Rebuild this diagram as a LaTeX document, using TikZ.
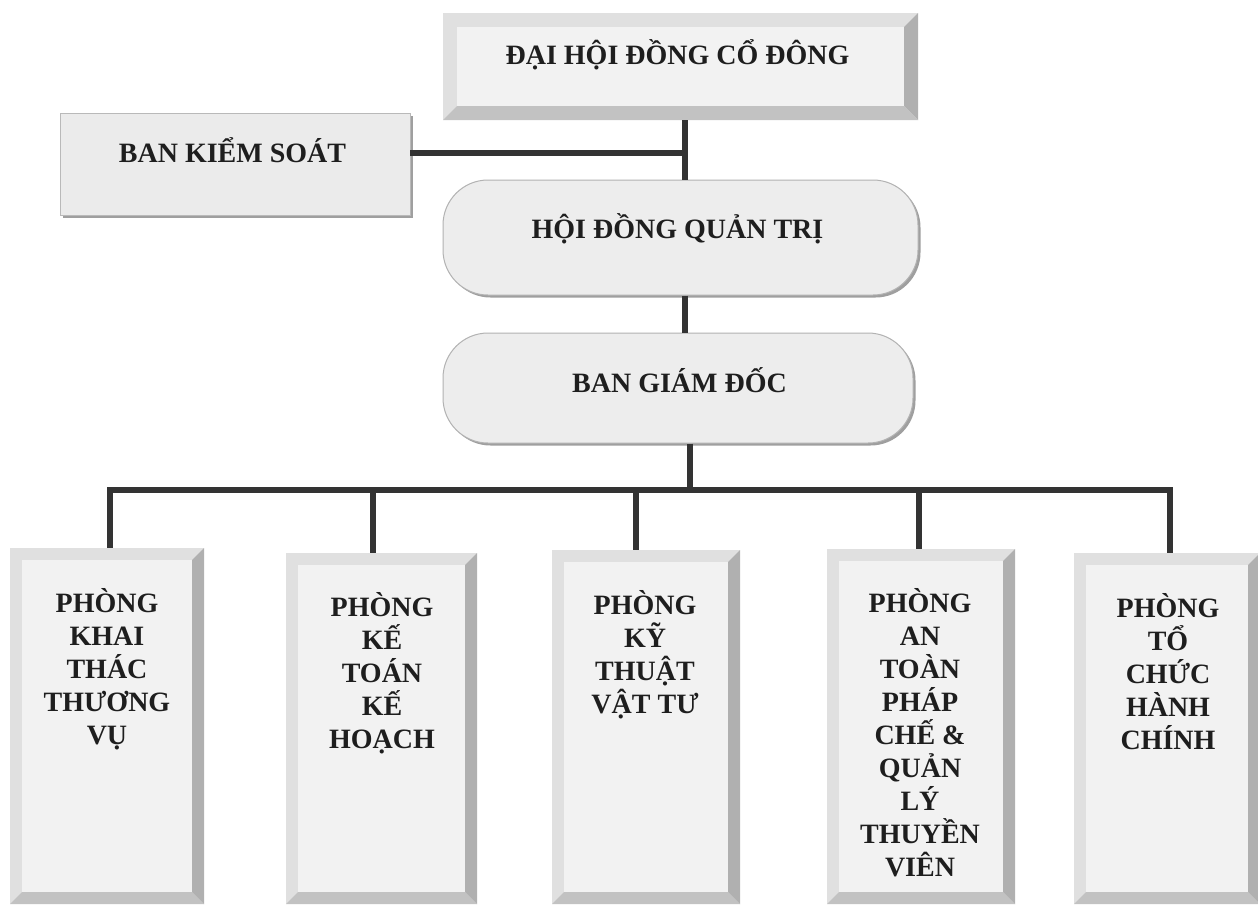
\documentclass[tikz,border=0pt]{standalone}
\usepackage{fontspec}
\setmainfont{Liberation Serif}
\usetikzlibrary{shadows}
\definecolor{linec}{HTML}{333333}
\definecolor{txt}{HTML}{1E1E1E}
\definecolor{bevface}{gray}{0.95}
\begin{document}
\begin{tikzpicture}[x=1pt,y=-1pt,
  conn/.style={draw=linec,line width=5.5pt,line join=miter},
  lbl/.style={font=\fontsize{28}{33}\selectfont\bfseries,text=txt,inner sep=0pt,align=center,anchor=base},
  bevel/.style={fill=gray!24,draw=none,inner sep=0pt,path picture={
     \path (path picture bounding box.north west) coordinate (@a)
           (path picture bounding box.south east) coordinate (@b)
           (path picture bounding box.north east) coordinate (@c)
           (path picture bounding box.south west) coordinate (@d);
     \fill[gray!62] (@c) -- (@b) -- ([xshift=-#1pt,yshift=#1pt]@b) -- ([xshift=-#1pt,yshift=-#1pt]@c) -- cycle;
     \fill[gray!48] (@d) -- (@b) -- ([xshift=-#1pt,yshift=#1pt]@b) -- ([xshift=#1pt,yshift=#1pt]@d) -- cycle;
     \fill[bevface] ([xshift=#1pt,yshift=-#1pt]@a) rectangle ([xshift=-#1pt,yshift=#1pt]@b);
  }},
  bevel/.default=12,
  pill/.style={rounded corners=45pt,fill=gray!14,draw=gray!60,line width=1pt,
     drop shadow={shadow xshift=2.5pt,shadow yshift=-2.5pt,fill=gray!75,opacity=1}},
  flat/.style={fill=gray!16,draw=gray!55,line width=0.8pt,
     drop shadow={shadow xshift=2.5pt,shadow yshift=-2.5pt,fill=gray!75,opacity=1}},
]
\fill[white] (0,0) rectangle (1258,906);
\useasboundingbox (0,0) rectangle (1258,906);

% boxes
\node[bevel=14,minimum width=475pt,minimum height=107pt] (dh) at (680.5,66.5) {};
\node[flat,minimum width=350pt,minimum height=102pt] (bks) at (235,164) {};
\node[pill,minimum width=475pt,minimum height=115pt] (hd) at (680.5,237.5) {};
\node[pill,minimum width=470pt,minimum height=110pt] (bgd) at (678,388) {};

\node[bevel,minimum width=194pt,minimum height=356pt] (p1) at (107,726) {};
\node[bevel,minimum width=191pt,minimum height=351pt] (p2) at (381.5,728.5) {};
\node[bevel,minimum width=188pt,minimum height=354pt] (p3) at (646,727) {};
\node[bevel,minimum width=188pt,minimum height=355pt] (p4) at (921,726.5) {};
\node[bevel,minimum width=186pt,minimum height=351pt] (p5) at (1167,728.5) {};

% labels (base = baseline of last line)
\node[lbl] (tdh) at (677.5,64) {ĐẠI HỘI ĐỒNG CỔ ĐÔNG};
\node[lbl] (tbks) at (232.5,162) {BAN KIỂM SOÁT};
\node[lbl] (thd) at (677.5,238) {HỘI ĐỒNG QUẢN TRỊ};
\node[lbl] (tbgd) at (679.5,392) {BAN GIÁM ĐỐC};
\node[lbl] (t1) at (107,744) {PHÒNG\\KHAI\\THÁC\\THƯƠNG\\VỤ};
\node[lbl] (t2) at (382,748) {PHÒNG\\KẾ\\TOÁN\\KẾ\\HOẠCH};
\node[lbl] (t3) at (645,713) {PHÒNG\\KỸ\\THUẬT\\VẬT TƯ};
\node[lbl] (t4) at (920,876) {PHÒNG\\AN\\TOÀN\\PHÁP\\CHẾ \&\\QUẢN\\LÝ\\THUYỀN\\VIÊN};
\node[lbl] (t5) at (1168,749) {PHÒNG\\TỔ\\CHỨC\\HÀNH\\CHÍNH};

% connectors
\coordinate (j1) at (685,153);
\coordinate (bus) at (690,490);
\coordinate (d1) at (110,490);
\coordinate (d2) at (373,490);
\coordinate (d3) at (636,490);
\coordinate (d4) at (919,490);
\coordinate (d5) at (1170,490);

\draw[conn] (j1 |- dh.south) -- (j1 |- hd.north);
\draw[conn] (bks.east |- j1) -- (j1);
\draw[conn] (j1 |- hd.south) -- (j1 |- bgd.north);
\draw[conn] (bus |- bgd.south) -- (bus);
\draw[conn] (d1 |- p1.north) -- (d1) -- (d5) -- (d5 |- p5.north);
\draw[conn] (d2) -- (d2 |- p2.north);
\draw[conn] (d3) -- (d3 |- p3.north);
\draw[conn] (d4) -- (d4 |- p4.north);
\end{tikzpicture}
\end{document}
